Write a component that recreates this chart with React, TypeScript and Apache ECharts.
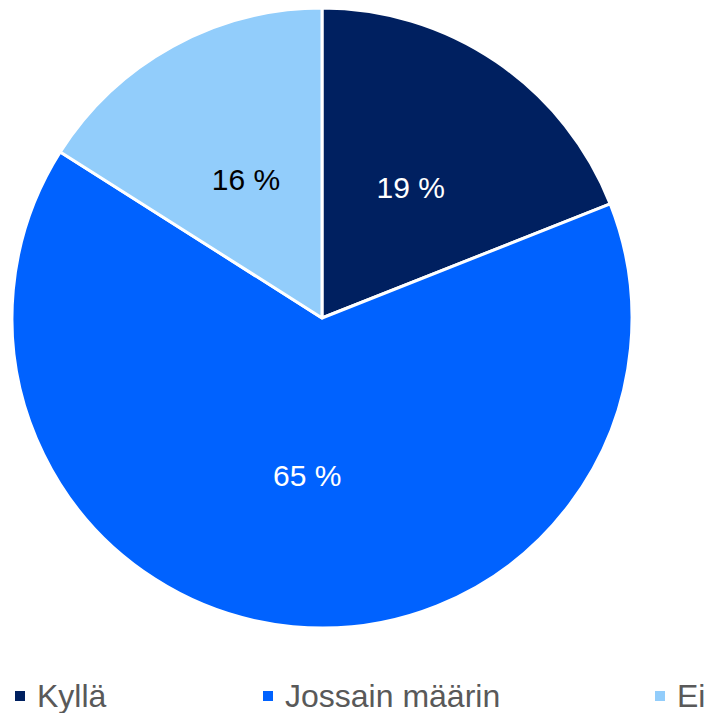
import React, { useEffect, useRef } from "react";
import * as echarts from "echarts";

const categories = ["Kyllä", "Jossain määrin", "Ei"];
const values = [19, 65, 16];
const colors = ["#002060", "#0062FF", "#92CDFB"];
const labelColors = ["#FFFFFF", "#FFFFFF", "#000000"];
const legendLefts = [13, 261, 653];

export default function App() {
  const ref = useRef<HTMLDivElement>(null);
  useEffect(() => {
    const chart = echarts.init(ref.current!, undefined, { renderer: "svg" });
    chart.setOption({
      animation: false,
      backgroundColor: "#FFFFFF",
      legend: categories.map((name, i) => ({
        left: legendLefts[i],
        top: 678,
        itemWidth: 12,
        itemHeight: 12,
        icon: "rect",
        selectedMode: false,
        padding: 0,
        textStyle: {
          fontFamily: "Liberation Sans, Arial, sans-serif",
          fontSize: 32,
          lineHeight: 36,
          color: "#595959",
          padding: [0, 0, 0, 6],
        },
        data: [name],
      })),
      series: [
        {
          type: "pie",
          center: [322, 318],
          radius: [0, 310],
          startAngle: 90,
          clockwise: true,
          itemStyle: { borderColor: "#FFFFFF", borderWidth: 3 },
          label: {
            show: true,
            position: "inside",
            fontFamily: "Liberation Sans, Arial, sans-serif",
            fontSize: 30,
            formatter: (p: any) => `${p.value} %`,
          },
          labelLine: { show: false },
          emphasis: { disabled: true },
          data: categories.map((name, i) => ({
            name,
            value: values[i],
            itemStyle: { color: colors[i] },
            label: { color: labelColors[i] },
          })),
        },
      ],
    });
    return () => chart.dispose();
  }, []);
  return (
    <div
      ref={ref}
      style={{ position: "fixed", left: 0, top: 0, width: 710, height: 713 }}
    />
  );
}
